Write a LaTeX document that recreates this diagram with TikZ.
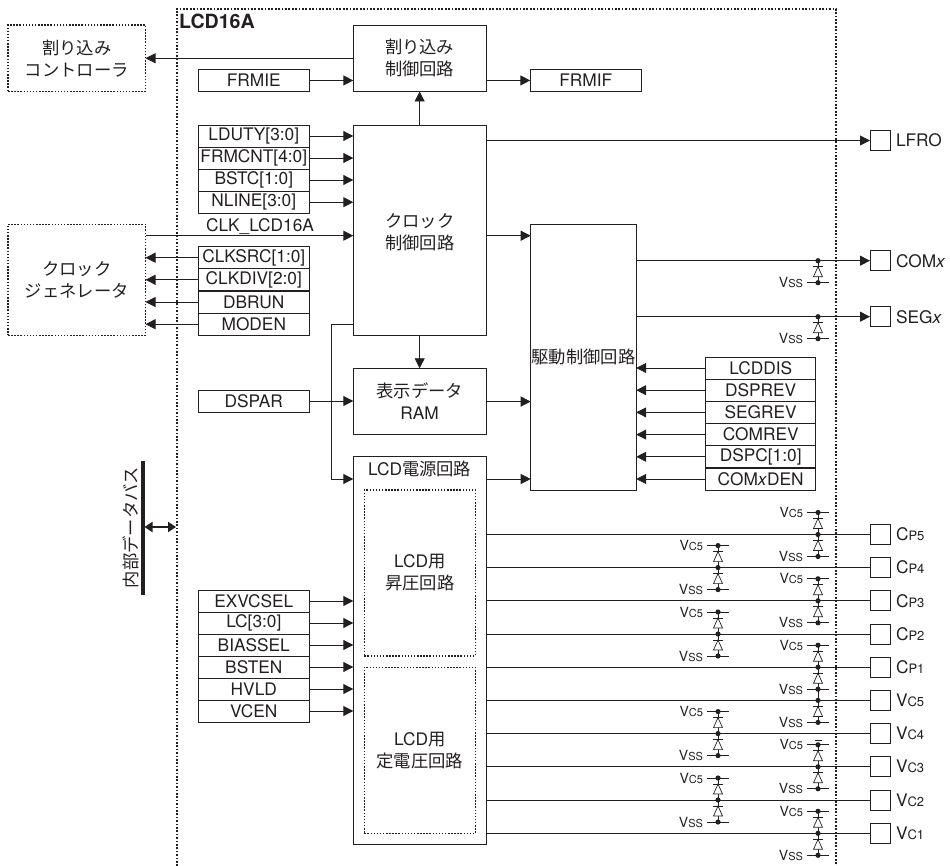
\documentclass[tikz,border=0pt]{standalone}
\usepackage{fontspec}
\setmainfont{TeX Gyre Heros}
\newfontfamily\cjf{Noto Sans CJK JP}
\usetikzlibrary{arrows.meta}
\definecolor{ink}{HTML}{231F20}
\newcommand{\cj}[1]{{\cjf #1}}
\newcommand{\fs}{\fontsize{17.3}{22}\selectfont}
\newcommand{\sm}[2]{{\fontsize{#1}{#1}\selectfont #2}}
\newcommand{\pl}[2]{#1\sm{13}{#2}}
\tikzset{
  every node/.style={inner sep=0pt,outer sep=0pt,text=ink,font=\fs,align=center},
  box/.style={draw=ink,line width=.9pt,anchor=north west},
  reg/.style={box,minimum width=111pt,minimum height=22pt},
  ext/.style={draw=ink,line width=1.1pt,dash pattern=on 1.5pt off 1.6pt,anchor=north west},
  pad/.style={draw=ink,line width=.9pt,minimum width=20pt,minimum height=20pt,anchor=west},
  padtext/.style={anchor=west},
  link/.style={draw=ink,line width=.9pt},
  arr/.style={link,-{Triangle[length=10pt,width=10pt]}},
  dbl/.style={draw=ink,line width=2.4pt,{Triangle[length=8pt,width=10pt]}-{Triangle[length=8pt,width=10pt]}},
  cell/.style={draw=ink,fill=white,line width=.7pt},
  tinylab/.style={anchor=east}
}
% one diode: #1 x, #2 y of the bar (apex), triangle base 10 below
\newcommand{\dio}[2]{%
  \draw[cell] (#1-4.5,#2+10) -- (#1+4.5,#2+10) -- (#1,#2) -- cycle;
  \draw[link,line width=.7pt] (#1-4.7,#2) -- (#1+4.7,#2);}
\newcommand{\railV}[4]{% x, y, name, small text
  \draw[link,line width=.7pt] (#1-11,#2) -- (#1+11,#2);
  \fill[ink] (#1,#2) circle (2.6);
  \node[tinylab] (#3) at (#1-15,#2) {\sm{14}{V}\sm{11}{#4}};}
% below the line: diode and VSS rail
\newcommand{\lowclamp}[3]{%
  \draw[link,line width=.7pt] (#1,#2) -- (#1,#2+22);
  \dio{#1}{#2+6}
  \railV{#1}{#2+22}{#3}{SS}
  \fill[ink] (#1,#2) circle (2.6);}
% above the line: diode and VC5 rail
\newcommand{\upclamp}[3]{%
  \draw[link,line width=.7pt] (#1,#2) -- (#1,#2-22);
  \dio{#1}{#2-16}
  \railV{#1}{#2-22}{#3}{C5}}
\begin{document}
\begin{tikzpicture}[x=1pt,y=-1pt]
\useasboundingbox (0,0) rectangle (950,866);
% module frame
\coordinate (fa) at (176.5,866);
\coordinate (fb) at (176.5,9);
\coordinate (fc) at (836,9);
\coordinate (fd) at (836,866);
\draw[draw=ink,line width=2pt,dash pattern=on 1.7pt off 1.7pt] (fa) -- (fb) -- (fc) -- (fd);
\node[anchor=west,font=\fontsize{19.6}{22}\selectfont\bfseries] (title) at (179,21.5) {LCD16A};
% external blocks
\node[ext,minimum width=137.5pt,minimum height=66.5pt] (intc) at (8,25) {\cj{割り込み}\\\cj{コントローラ}};
\node[ext,minimum width=137.5pt,minimum height=111pt] (clkgen) at (8,224.3) {\cj{クロック}\\\cj{ジェネレータ}};
% main blocks
\node[box,minimum width=132.7pt,minimum height=66.5pt] (ictl) at (353.3,25) {\cj{割り込み}\\\cj{制御回路}};
\node[box,minimum width=132.7pt,minimum height=210pt] (clock) at (353.3,125) {};
\node (clocklab) at (419.7,232) {\cj{クロック}\\\cj{制御回路}};
\node[box,minimum width=132.7pt,minimum height=66.5pt] (ram) at (353.3,368.3) {\cj{表示データ}\\RAM};
\node[box,minimum width=132.7pt,minimum height=387.5pt] (power) at (353.3,456.7) {};
\node (powerlab) at (419.7,468.5) {LCD\cj{電源回路}};
\node[ext,minimum width=111pt,minimum height=166pt] (boost) at (364.3,490) {LCD\cj{用}\\\cj{昇圧回路}};
\node[ext,minimum width=111pt,minimum height=166pt] (vreg) at (364.3,667.3) {LCD\cj{用}\\\cj{定電圧回路}};
\node[box,minimum width=105.5pt,minimum height=266pt] (drive) at (530.7,224.3) {\cj{駆動制御回路}};
% registers
\node[reg,minimum height=22.3pt] (frmie) at (198.3,69.3) {FRMIE};
\node[reg,minimum height=22.3pt] (frmif) at (530.3,69.3) {FRMIF};
\node[reg] (ldut) at (198.3,125) {LDUTY[3:0]};
\node[reg] (fcnt) at (198.3,147) {FRMCNT[4:0]};
\node[reg] (bstc) at (198.3,169) {BSTC[1:0]};
\node[reg] (nlin) at (198.3,191.2) {NLINE[3:0]};
\node[reg] (csrc) at (198.3,246.7) {CLKSRC[1:0]};
\node[reg] (cdiv) at (198.3,268.8) {CLKDIV[2:0]};
\node[reg] (dbrn) at (198.3,291) {DBRUN};
\node[reg] (modn) at (198.3,313.2) {MODEN};
\node[reg] (dspar) at (198.3,390) {DSPAR};
\node[reg] (exvc) at (198.3,590) {EXVCSEL};
\node[reg] (lc) at (198.3,612) {LC[3:0]};
\node[reg] (bias) at (198.3,634) {BIASSEL};
\node[reg] (bstn) at (198.3,656) {BSTEN};
\node[reg] (hvld) at (198.3,678) {HVLD};
\node[reg] (vcen) at (198.3,700) {VCEN};
\node[reg,minimum width=110pt] (ldis) at (705.7,357) {LCDDIS};
\node[reg,minimum width=110pt] (drev) at (705.7,379.2) {DSPREV};
\node[reg,minimum width=110pt] (srev) at (705.7,401.4) {SEGREV};
\node[reg,minimum width=110pt] (crev) at (705.7,423.6) {COMREV};
\node[reg,minimum width=110pt] (dspc) at (705.7,445.8) {DSPC[1:0]};
\node[reg,minimum width=110pt] (cden) at (705.7,468) {COM\textit{x}DEN};
% pads
\node[pad] (lfro) at (870,140.5) {};
\node[padtext] (lfrot) at (896,140.5) {LFRO};
\node[pad] (comx) at (870,260.7) {};
\node[padtext] (comxt) at (896,260.7) {COM\textit{x}};
\node[pad] (segx) at (870,316.7) {};
\node[padtext] (segxt) at (896,316.7) {SEG\textit{x}};
\foreach \n/\y/\a/\b in {cp5/534.5/C/P5,cp4/567.6/C/P4,cp3/600.8/C/P3,cp2/634/C/P2,cp1/667.2/C/P1,vc5/700.4/V/C5,vc4/733.6/V/C4,vc3/766.8/V/C3,vc2/800/V/C2,vc1/833.3/V/C1}{
  \node[pad] (\n) at (870,\y) {};
  \node[padtext] (\n t) at (896,\y) {\pl{\a}{\b}};
  \draw[link] (power.east |- \n.west) -- (\n.west);
}
% connectors
\coordinate (clkin) at (145.5,235.7);
\coordinate (brk) at (331,324);
\coordinate (brj) at (331,479);
\draw[arr] (ictl.west |- intc.east) -- (intc.east);
\draw[arr] (frmie.east) -- (frmie.east -| ictl.west);
\draw[arr] (ictl.east |- frmif.west) -- (frmif.west);
\draw[arr] (clock.north) -- (ictl.south);
\foreach \r in {ldut,fcnt,bstc,nlin}{\draw[arr] (\r.east) -- (\r.east -| clock.west);}
\foreach \r in {csrc,cdiv,dbrn,modn}{\draw[arr] (\r.west) -- (\r.west -| clkgen.east);}
\draw[arr] (clkin) -- (clkin -| clock.west);
\node (clklab) at (260,226.5) {CLK\_LCD16A};
\draw[arr] (clock.east |- clkin) -- (drive.west |- clkin);
\draw[arr] (clock.south) -- (ram.north);
\draw[arr] (dspar.east) -- (dspar.east -| ram.west);
\draw[arr] (ram.east) -- (ram.east -| drive.west);
\draw[link] (clock.west |- brk) -- (brk) -- (brj);
\draw[arr] (brj) -- (brj -| power.west);
\draw[arr] (power.east |- brj) -- (drive.west |- brj);
\foreach \r in {exvc,lc,bias,bstn,hvld,vcen}{\draw[arr] (\r.east) -- (\r.east -| power.west);}
\foreach \r in {ldis,drev,srev,crev,dspc,cden}{\draw[arr] (\r.west) -- (\r.west -| drive.east);}
\draw[arr] (clock.east |- lfro.west) -- (lfro.west);
\draw[arr] (drive.east |- comx.west) -- (comx.west);
\draw[arr] (drive.east |- segx.west) -- (segx.west);
% data bus
\coordinate (busa) at (143,461);
\coordinate (busb) at (143,594.5);
\coordinate (busm) at (144.5,527);
\coordinate (busr) at (176,527);
\draw[draw=ink,line width=4pt] (busa) -- (busb);
\draw[dbl] (busm) -- (busr);
\node[rotate=90] (buslab) at (131,527.5) {\cj{内部データバス}};
% clamp diodes
\lowclamp{818}{260.7}{a1}
\lowclamp{818}{316.7}{a2}
\foreach \n/\x/\y in {b1/818/534.5,b2/718/567.6,b3/818/600.8,b4/718/634,b5/818/667.2,b6/718/733.6,b7/818/766.8,b8/718/800,b9/818/833.3}{
  \upclamp{\x}{\y}{\n u}
  \lowclamp{\x}{\y}{\n d}
}
\lowclamp{818}{700.4}{b10}
\coordinate (vx) at (818,689.2);
\coordinate (vy) at (818,700.4);
\draw[link,line width=.7pt] (vx) -- (vy);
\coordinate (ta) at (815,740);
\coordinate (tb) at (822,740);
\draw[link,line width=.7pt] (ta) -- (tb);
\end{tikzpicture}
\end{document}
